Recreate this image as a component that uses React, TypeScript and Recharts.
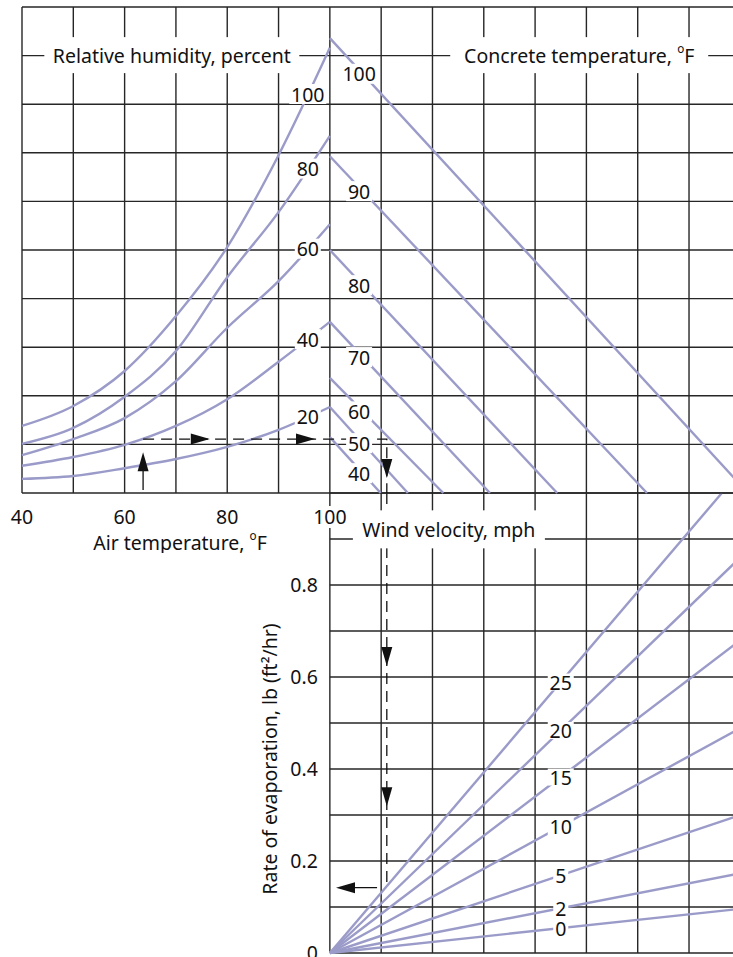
import { ComposedChart, Line, Scatter, XAxis, YAxis, CartesianGrid } from 'recharts'

const PX = 5.131 // pixels per °F on the shared horizontal grid
const FONT = '"Noto Sans", "Open Sans", sans-serif'
const FS = 19.5
const GRID = '#262626'
const CURVE = '#9b9bc9'
const INK = '#111'

// upper left: air temperature vs. vapour pressure (grid cells) for each relative humidity
const airTemps = [40, 50, 60, 70, 80, 90, 100]
const rhLevels = ['100', '80', '60', '40', '20']
const rh100 = [1.38, 1.79, 2.51, 3.64, 5.06, 6.95, 9.16]
const rh80 = [1.01, 1.34, 1.98, 2.92, 4.44, 5.78, 7.35]
const rh60 = [0.78, 1.11, 1.54, 2.3, 3.4, 4.36, 5.53]
const rh40 = [0.56, 0.74, 0.99, 1.38, 1.93, 2.7, 3.52]
const rh20 = [0.29, 0.35, 0.51, 0.7, 0.95, 1.3, 1.77]
const rhCurves = [rh100, rh80, rh60, rh40, rh20]

// upper right: concrete temperature lines, start on the 100 line, end on the bottom
const concreteTemps = [100, 90, 80, 70, 60, 50, 40]
const concreteStart = [9.36, 6.93, 5.0, 3.52, 2.37, 1.77, 1.15]
const concreteEnd = [181.5, 161.8, 144.3, 131.2, 122.1, 115.2, 109.9]

// lower: wind velocity lines from the origin
const windSpeeds = [25, 20, 15, 10, 5, 2, 0]
const windEndX = [176.4, 180, 180, 180, 180, 180, 180]
const windEndRate = [1.0, 0.86, 0.68, 0.489, 0.3, 0.173, 0.096]

const topGridX = [40, 50, 60, 70, 80, 90, 100, 110, 120, 130, 140, 150, 160, 170, 180]
const topGridY = [0, 1, 2, 3, 4, 5, 6, 7, 8, 9, 10]
const airTicks = [40, 60, 80, 100]
const botGridX = [100, 110, 120, 130, 140, 150, 160, 170, 180]
const botGridY = [0, 0.1, 0.2, 0.3, 0.4, 0.5, 0.6, 0.7, 0.8, 0.9, 1.0]
const rateTicks = [0, 0.2, 0.4, 0.6, 0.8]

// example path through the chart
const exAir = 63.6
const exLevel = 1.11
const exDiff = 111.1
const exRate = 0.142

const TOP_LEFT = 22
const TOP_Y = 7
const TOP_H = 486
const BOT_Y = 493
const BOT_H = 460
const XMAX = 185
const WIDTH = TOP_LEFT + (XMAX - 40) * PX
const BOT_LEFT = TOP_LEFT + 60 * PX
const RATE_AXIS_W = 80

const interp = (xs: number[], ys: number[], x: number) => {
  for (let i = 1; i < xs.length; i++) {
    if (x <= xs[i]) {
      const t = (x - xs[i - 1]) / (xs[i] - xs[i - 1])
      return ys[i - 1] + t * (ys[i] - ys[i - 1])
    }
  }
  return ys[ys.length - 1]
}

const rhSeries = rhCurves.map((c) => airTemps.map((t, j) => ({ x: t, y: c[j] })))
const concreteSeries = concreteTemps.map((_, i) => [
  { x: 100, y: concreteStart[i] },
  { x: concreteEnd[i], y: 0 },
])
const windSeries = windSpeeds.map((_, i) => [
  { x: 100, y: 0 },
  { x: windEndX[i], y: windEndRate[i] },
])

const topLabels = [
  ...rhLevels.map((t, i) => ({ x: 95.7, y: interp(airTemps, rhCurves[i], 95.7), text: t, w: t.length * 11 + 4, h: 20 })),
  ...concreteTemps.map((t, i) => {
    const s = String(t)
    const y = concreteStart[i] - (5.7 * concreteStart[i]) / (concreteEnd[i] - 100) - 0.08
    return { x: 105.7, y, text: s, w: s.length * 11 + 4, h: 20 }
  }),
  { x: 69.2, y: 9.01, text: 'Relative humidity, percent', w: 255, h: 36 },
  { x: 148.6, y: 9.01, text: 'Concrete temperature, °F', w: 258, h: 36 },
]

const botLabels = [
  ...windSpeeds.map((w, i) => {
    const s = String(w)
    const y = (windEndRate[i] * 45) / (windEndX[i] - 100)
    return { x: 145, y, text: s, w: s.length * 11 + 4, h: 17 }
  }),
  { x: 123.2, y: 0.921, text: 'Wind velocity, mph', w: 192, h: 38 },
]

const topArrows = [
  { x: exAir, y: 0.84, dir: 'up' },
  { x: 76.6, y: exLevel, dir: 'right' },
  { x: 97.1, y: exLevel, dir: 'right' },
  { x: exDiff, y: 0.31, dir: 'down' },
]
const botArrows = [
  { x: exDiff, y: 0.624, dir: 'down' },
  { x: exDiff, y: 0.319, dir: 'down' },
  { x: 101.2, y: exRate, dir: 'left' },
]

function rich(text: string) {
  const parts = text.split('°')
  if (parts.length === 1) return text
  return [
    <tspan key="a">{parts[0]}</tspan>,
    <tspan key="b" fontSize={FS * 0.6} dy={-FS * 0.38}>
      o
    </tspan>,
    <tspan key="c" fontSize={FS} dy={FS * 0.38}>
      {parts[1]}
    </tspan>,
  ]
}

function BoxLabel(props: any) {
  const { cx, cy, payload } = props
  if (cx == null || cy == null) return null
  return (
    <g>
      <rect x={cx - payload.w / 2} y={cy - payload.h / 2} width={payload.w} height={payload.h} fill="#fff" />
      <text x={cx} y={cy} textAnchor="middle" dominantBaseline="central" fontSize={FS} fill={INK} fontFamily={FONT}>
        {rich(payload.text)}
      </text>
    </g>
  )
}

function Arrow(props: any) {
  const { cx, cy, payload } = props
  if (cx == null || cy == null) return null
  const L = 19
  const H = 5.5
  let pts = ''
  if (payload.dir === 'up') pts = `${cx},${cy} ${cx - H},${cy + L} ${cx + H},${cy + L}`
  if (payload.dir === 'down') pts = `${cx},${cy} ${cx - H},${cy - L} ${cx + H},${cy - L}`
  if (payload.dir === 'right') pts = `${cx},${cy} ${cx - L},${cy - H} ${cx - L},${cy + H}`
  if (payload.dir === 'left') pts = `${cx},${cy} ${cx + L},${cy - H} ${cx + L},${cy + H}`
  return <polygon points={pts} fill={INK} />
}

const NoTick = () => <g />

function AirTick(props: any) {
  const { x, y, payload } = props
  if (!airTicks.includes(payload.value)) return <g />
  const s = String(payload.value)
  return (
    <g>
      <rect x={x - s.length * 6} y={y + 13} width={s.length * 12} height={22} fill="#fff" />
      <text x={x} y={y + 24} textAnchor="middle" dominantBaseline="central" fontSize={FS} fill={INK} fontFamily={FONT}>
        {s}
      </text>
    </g>
  )
}

function RateTick(props: any) {
  const { x, y, payload } = props
  if (!rateTicks.includes(payload.value)) return <g />
  const s = payload.value === 0 ? '0' : payload.value.toFixed(1)
  return (
    <text x={x - 12} y={y} textAnchor="end" dominantBaseline="central" fontSize={FS} fill={INK} fontFamily={FONT}>
      {s}
    </text>
  )
}

function AirTitle(props: any) {
  const vb = props.viewBox || { x: TOP_LEFT, y: TOP_Y + TOP_H }
  return (
    <text x={vb.x + 158} y={vb.y + 49} textAnchor="middle" dominantBaseline="central" fontSize={FS} fill={INK} fontFamily={FONT}>
      {rich('Air temperature, °F')}
    </text>
  )
}

function RateTitle(props: any) {
  const vb = props.viewBox || { x: BOT_LEFT - RATE_AXIS_W, y: BOT_Y, height: BOT_H }
  const cx = vb.x + 20
  const cy = vb.y + vb.height / 2 + 36
  return (
    <text
      x={cx}
      y={cy}
      transform={`rotate(-90 ${cx} ${cy})`}
      textAnchor="middle"
      dominantBaseline="central"
      fontSize={FS}
      fill={INK}
      fontFamily={FONT}
    >
      Rate of evaporation, lb (ft²/hr)
    </text>
  )
}

function TopChart() {
  return (
    <ComposedChart
      width={WIDTH}
      height={TOP_Y + TOP_H + 60}
      margin={{ top: TOP_Y, left: TOP_LEFT, right: 0, bottom: 0 }}
    >
      <CartesianGrid stroke={GRID} strokeWidth={1.4} />
      <XAxis
        type="number"
        dataKey="x"
        domain={[40, XMAX]}
        ticks={topGridX}
        interval={0}
        height={60}
        axisLine={false}
        tickLine={false}
        tickSize={0}
        tickMargin={0}
        tick={AirTick}
        label={AirTitle}
      />
      <YAxis
        type="number"
        domain={[0, 10]}
        ticks={topGridY}
        interval={0}
        width={0}
        axisLine={false}
        tickLine={false}
        tick={NoTick}
      />
      {rhSeries.map((d, i) => (
        <Line
          key={'rh' + i}
          data={d}
          dataKey="y"
          type="monotone"
          stroke={CURVE}
          strokeWidth={2.4}
          dot={false}
          isAnimationActive={false}
        />
      ))}
      {concreteSeries.map((d, i) => (
        <Line
          key={'ct' + i}
          data={d}
          dataKey="y"
          type="linear"
          stroke={CURVE}
          strokeWidth={2.4}
          dot={false}
          isAnimationActive={false}
        />
      ))}
      <Scatter data={topLabels} dataKey="y" shape={BoxLabel} isAnimationActive={false} />
      <Line
        data={[
          { x: exAir, y: 0.06 },
          { x: exAir, y: 0.5 },
        ]}
        dataKey="y"
        type="linear"
        stroke={INK}
        strokeWidth={1.3}
        dot={false}
        isAnimationActive={false}
      />
      <Line
        data={[
          { x: exAir, y: exLevel },
          { x: exDiff, y: exLevel },
          { x: exDiff, y: 0 },
        ]}
        dataKey="y"
        type="linear"
        stroke={INK}
        strokeWidth={1.3}
        strokeDasharray="11 7"
        dot={false}
        isAnimationActive={false}
      />
      <Scatter data={topArrows} dataKey="y" shape={Arrow} isAnimationActive={false} />
    </ComposedChart>
  )
}

function BottomChart() {
  return (
    <ComposedChart
      width={WIDTH}
      height={BOT_Y + BOT_H + 27}
      margin={{ top: BOT_Y, left: BOT_LEFT - RATE_AXIS_W, right: 0, bottom: 27 }}
    >
      <CartesianGrid stroke={GRID} strokeWidth={1.4} />
      <XAxis
        type="number"
        dataKey="x"
        domain={[100, XMAX]}
        ticks={botGridX}
        interval={0}
        height={0}
        axisLine={false}
        tickLine={false}
        tick={NoTick}
      />
      <YAxis
        type="number"
        domain={[0, 1]}
        ticks={botGridY}
        interval={0}
        width={RATE_AXIS_W}
        axisLine={false}
        tickLine={false}
        tickSize={0}
        tickMargin={0}
        tick={RateTick}
        label={RateTitle}
      />
      {windSeries.map((d, i) => (
        <Line
          key={'w' + i}
          data={d}
          dataKey="y"
          type="linear"
          stroke={CURVE}
          strokeWidth={2.4}
          dot={false}
          isAnimationActive={false}
        />
      ))}
      <Scatter data={botLabels} dataKey="y" shape={BoxLabel} isAnimationActive={false} />
      <Line
        data={[
          { x: exDiff, y: 1 },
          { x: exDiff, y: 0.144 },
        ]}
        dataKey="y"
        type="linear"
        stroke={INK}
        strokeWidth={1.3}
        strokeDasharray="11 7"
        dot={false}
        isAnimationActive={false}
      />
      <Line
        data={[
          { x: 109.2, y: exRate },
          { x: 103, y: exRate },
        ]}
        dataKey="y"
        type="linear"
        stroke={INK}
        strokeWidth={1.3}
        dot={false}
        isAnimationActive={false}
      />
      <Scatter data={botArrows} dataKey="y" shape={Arrow} isAnimationActive={false} />
    </ComposedChart>
  )
}

export default function App() {
  return (
    <div
      style={{
        position: 'absolute',
        left: 0,
        top: 0,
        width: 733,
        height: 957,
        overflow: 'hidden',
        background: '#fff',
        fontFamily: FONT,
      }}
    >
      <div style={{ position: 'absolute', left: 0, top: 0 }}>
        <BottomChart />
      </div>
      <div style={{ position: 'absolute', left: 0, top: 0 }}>
        <TopChart />
      </div>
    </div>
  )
}
